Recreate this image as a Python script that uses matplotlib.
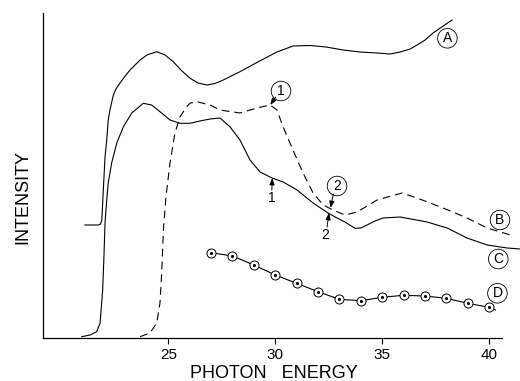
import matplotlib
matplotlib.use("Agg")
import matplotlib.pyplot as plt

# ---- data (photon energy, intensity in arbitrary units) ----
A_x = [21.10, 21.73, 21.83, 21.89, 21.96, 22.04, 22.12, 22.19, 22.27, 22.43, 22.55, 22.74,
       22.98, 23.21, 23.68, 24.00, 24.46, 24.85, 25.23, 25.59, 26.02, 26.39, 26.80, 27.18,
       27.57, 28.35, 29.21, 30.08, 30.83, 31.63, 32.38, 33.17, 33.97, 34.76, 35.37, 35.84,
       36.31, 36.63, 37.01, 37.38, 37.85, 38.27]
A_y = [113, 113, 114, 118, 148, 181, 198, 218, 228, 243, 249, 255,
       262, 268, 278, 283, 286.3, 283, 276.3, 268, 259.7, 255, 253, 254.5,
       258, 266.3, 276.3, 286, 292, 292.5, 291, 288, 286, 285, 284, 286,
       289, 293, 298, 305, 312, 318]

B_x = [23.68, 24.14, 24.46, 24.61, 24.69, 24.77, 24.89, 25.08, 25.31, 25.55, 25.86, 26.02,
       26.39, 26.95, 27.42, 28.35, 29.15, 29.76, 30.08, 30.37, 30.83, 31.30, 31.77, 32.24,
       32.70, 33.26, 33.83, 34.76, 35.93, 36.63, 37.85, 38.97, 39.91, 41.00]
B_y = [1.3, 5, 15, 35, 65, 108, 141.3, 175, 205, 221.3, 231.3, 235,
       236, 233, 228, 225, 230, 233, 228, 211, 188, 165, 145, 133,
       128, 123, 126, 138, 145, 140, 130, 120, 110, 103]

C_x = [20.95, 21.34, 21.65, 21.81, 21.93, 21.99, 22.04, 22.12, 22.19, 22.35, 22.59, 22.90,
       23.29, 23.83, 24.22, 24.61, 25.08, 25.55, 26.02, 26.48, 26.95, 27.42, 27.89, 28.35,
       28.82, 29.29, 29.85, 30.37, 31.02, 31.77, 32.47, 32.89, 33.26, 33.73, 34.01, 34.29,
       34.67, 35.04, 35.84, 37.10, 38.04, 38.97, 39.91, 40.84, 41.45]
C_y = [1.3, 3, 6.3, 15, 48, 81.3, 115, 138, 155, 175, 195, 211.3,
       225, 234.7, 233, 226.3, 218, 214.7, 214.7, 217, 219, 220, 211, 198,
       178, 166, 160, 156, 148, 135, 125, 120, 116, 109.7, 110, 113,
       117, 120, 121, 116, 110, 100, 93, 90, 89]

D_x = [27, 28, 29, 30, 31, 32, 33, 34, 35, 36, 37, 38, 39, 40]
D_y = [85.3, 82, 73, 63, 54.7, 46.3, 38.7, 37.3, 40.7, 42.7, 42, 39.7, 34.7, 30.7]
D_tail_x = [40, 40.3]
D_tail_y = [30.7, 28]

xticks = [25, 30, 35, 40]

# ---- figure ----
W, H = 520, 381
fig = plt.figure(figsize=(W / 100, H / 100), dpi=100)
left, right, bottom, top = 43, 501.7, 338, 13
ax = fig.add_axes([left / W, 1 - bottom / H, (right - left) / W, (bottom - top) / H])
ax.set_xlim(19.14, 40.59)
ax.set_ylim(0, 325)

font = "Liberation Sans"
lw = 0.8
kw = dict(color="black", lw=lw, clip_on=False, solid_joinstyle="round")
ax.plot(A_x, A_y, **kw)
ax.plot(B_x, B_y, color="black", lw=lw, ls=(0, (7, 4.5)), clip_on=False)
ax.plot(C_x, C_y, **kw)
ax.plot(D_x, D_y, **kw)
ax.plot(D_tail_x, D_tail_y, **kw)
ax.plot(D_x, D_y, ls="none", marker="o", ms=6.5, mfc="white", mec="black", mew=0.7, clip_on=False)
ax.plot(D_x, D_y, ls="none", marker=".", ms=2.5, color="black", clip_on=False)

for s in ["top", "right"]:
    ax.spines[s].set_visible(False)
for s in ["left", "bottom"]:
    ax.spines[s].set_linewidth(0.9)
ax.set_yticks([])
ax.set_xticks(xticks)
ax.set_xticklabels([str(t) for t in xticks], fontfamily=font, fontsize=11)
ax.tick_params(axis="x", direction="out", length=4, width=0.8, pad=3)

fig.text(274 / W, 1 - 373 / H, "PHOTON   ENERGY", ha="center", va="center",
         fontfamily=font, fontsize=13)
fig.text(23 / W, 1 - 197 / H, "INTENSITY", ha="center", va="center", rotation=90,
         fontfamily=font, fontsize=13)

circ = dict(boxstyle="circle,pad=0.2", fc="white", ec="black", lw=0.6)
for txt, x, y in [("A", 38.05, 299.7), ("B", 40.51, 118), ("C", 40.43, 79), ("D", 40.39, 44.7),
                  ("1", 30.27, 247), ("2", 32.89, 152)]:
    ax.text(x, y, txt, ha="center", va="center", fontfamily=font, fontsize=10,
            bbox=circ, clip_on=False)
for txt, x, y in [("1", 29.84, 139.7), ("2", 32.33, 103)]:
    ax.text(x, y, txt, ha="center", va="center", fontfamily=font, fontsize=10)

arrow = dict(arrowstyle="-|>,head_length=0.4,head_width=0.15", color="black", lw=0.7,
             shrinkA=0, shrinkB=0)
for (x0, y0), (x1, y1) in [((30.02, 241), (29.77, 233)), ((32.72, 144), (32.58, 130)),
                           ((29.84, 148), (29.86, 160)), ((32.42, 111), (32.52, 125))]:
    ax.annotate("", xy=(x1, y1), xytext=(x0, y0), arrowprops=arrow)

fig.savefig("out.png", dpi=100)
